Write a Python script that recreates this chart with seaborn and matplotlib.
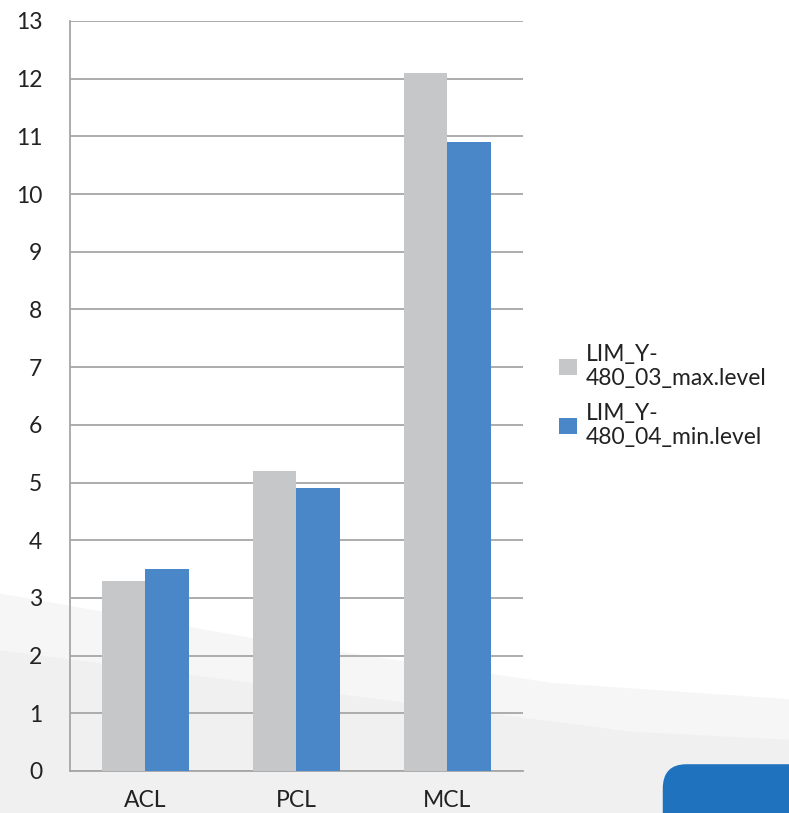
import numpy as np
import pandas as pd
import seaborn as sns
import matplotlib.pyplot as plt
from matplotlib.patches import Polygon, FancyBboxPatch

categories = ["ACL", "PCL", "MCL"]
series_names = ["LIM_Y-\n480_03_max.level", "LIM_Y-\n480_04_min.level"]
max_level = [3.3, 5.2, 12.1]
min_level = [3.5, 4.9, 10.9]
y_ticks = list(range(0, 14))

df = pd.DataFrame({
    "ligament": categories * 2,
    "series": [series_names[0]] * 3 + [series_names[1]] * 3,
    "value": max_level + min_level,
})

sns.set_style("white")
plt.rcParams["font.family"] = ["Lato", "DejaVu Sans"]

fig = plt.figure(figsize=(7.89, 8.13), dpi=100)
fig.patch.set_facecolor("white")

# background decoration: light grey swoosh + logo corner
bg = fig.add_axes([0, 0, 1, 1], zorder=-1)
bg.set_xlim(0, 1)
bg.set_ylim(0, 1)
bg.axis("off")
bg.add_patch(Polygon([[0, 0], [0, 0.27], [0.35, 0.21], [0.7, 0.16], [1, 0.14], [1, 0]],
                     closed=True, facecolor="#f6f6f6", edgecolor="none"))
bg.add_patch(Polygon([[0, 0], [0, 0.2], [0.4, 0.15], [0.8, 0.1], [1, 0.09], [1, 0]],
                     closed=True, facecolor="#f0f0f0", edgecolor="none"))
bg.add_patch(FancyBboxPatch((0.84, -0.03), 0.2, 0.09, boxstyle="round,pad=0,rounding_size=0.03",
                            facecolor="#1f72bd", edgecolor="none"))

ax = fig.add_axes([0.0887, 0.0517, 0.574, 0.9225])
ax.set_facecolor("none")

sns.barplot(data=df, x="ligament", y="value", hue="series",
            palette=["#c6c7c9", "#4a87c8"], width=0.58, gap=0,
            saturation=1, linewidth=0, edgecolor="none", ax=ax, zorder=3)

ax.set_ylim(0, 13)
ax.set_xlim(-0.5, 2.5)
ax.set_yticks(y_ticks)
ax.yaxis.grid(True, color="#a6a6a6", linewidth=1.3, zorder=0)
ax.set_axisbelow(True)
for s in ["top", "right"]:
    ax.spines[s].set_visible(False)
for s in ["left", "bottom"]:
    ax.spines[s].set_color("#a6a6a6")
    ax.spines[s].set_linewidth(1.3)

ax.tick_params(axis="y", length=8, width=1.3, color="#a6a6a6", labelsize=16.5,
               labelcolor="#222222", pad=12)
ax.set_xticks([0, 1, 2])
ax.set_xticklabels(categories)
ax.tick_params(axis="x", which="major", length=0, labelsize=16.5, labelcolor="#222222", pad=14)
ax.set_xticks([-0.5, 0.5, 1.5, 2.5], minor=True)
ax.tick_params(axis="x", which="minor", length=7, width=1.3, color="#a6a6a6")
ax.set_xlabel("")
ax.set_ylabel("")

ax.legend(loc="center left", bbox_to_anchor=(1.035, 0.5), frameon=False,
          fontsize=16.5, handlelength=0.75, handleheight=0.75, handletextpad=0.4,
          labelspacing=0.6, labelcolor="#222222")

fig.savefig("out.png", dpi=100)
